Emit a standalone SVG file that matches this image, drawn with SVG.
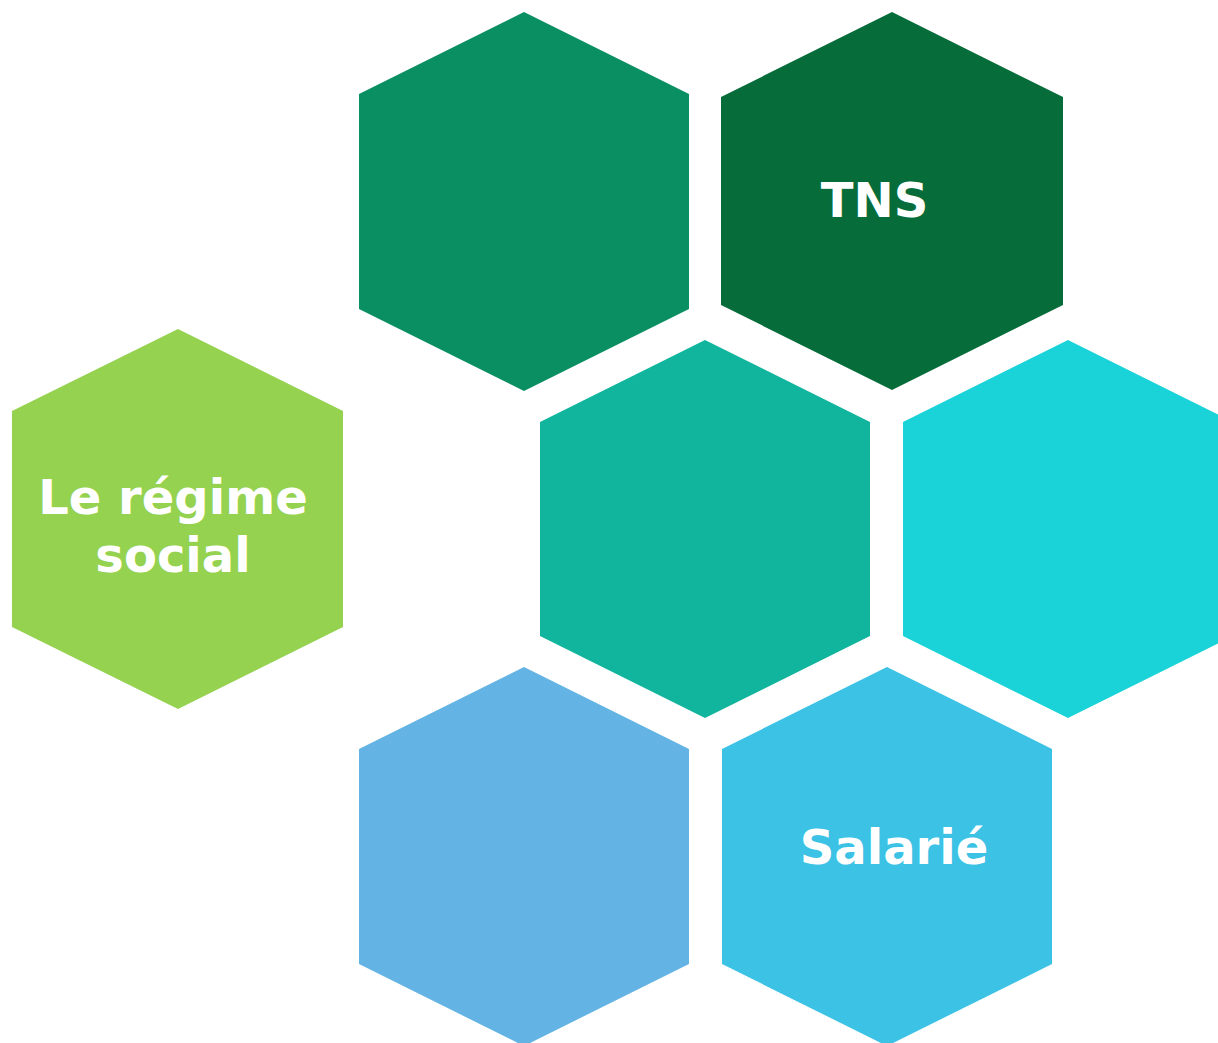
<svg xmlns="http://www.w3.org/2000/svg" width="1218" height="1043" viewBox="0 0 1218 1043">
<style>
.lbl{font-family:"DejaVu Sans","Liberation Sans",sans-serif;font-weight:bold;font-size:48px;fill:#FFFFFF;text-anchor:middle}
</style>
<rect width="1218" height="1043" fill="#FFFFFF"/>
<g id="hex-regime">
<polygon points="178,329 343,411 343,627 178,709 12,627 12,411" fill="#94D250"/>
<text class="lbl" x="173" y="514">Le régime</text>
<text class="lbl" x="173" y="572">social</text>
</g>
<g id="hex-top-left">
<polygon points="524,12 689,94 689,309 524,391 359,309 359,94" fill="#0A8F63"/>
</g>
<g id="hex-tns">
<polygon points="892,12 1063,97 1063,305 892,390 721,305 721,97" fill="#056C3A"/>
<text class="lbl" x="874.5" y="217">TNS</text>
</g>
<g id="hex-center">
<polygon points="705,340 870,422 870,636 705,718 540,636 540,422" fill="#11B59D"/>
</g>
<g id="hex-right">
<polygon points="1068,340 1233,422 1233,636 1068,718 903,636 903,422" fill="#1AD3D8"/>
</g>
<g id="hex-bottom-left">
<polygon points="524,667 689,749 689,964 524,1046 359,964 359,749" fill="#63B4E4"/>
</g>
<g id="hex-salarie">
<polygon points="887,667 1052,749 1052,964 887,1046 722,964 722,749" fill="#3BC2E5"/>
<text class="lbl" x="894" y="864">Salarié</text>
</g>
<g id="connectors"/>
</svg>
